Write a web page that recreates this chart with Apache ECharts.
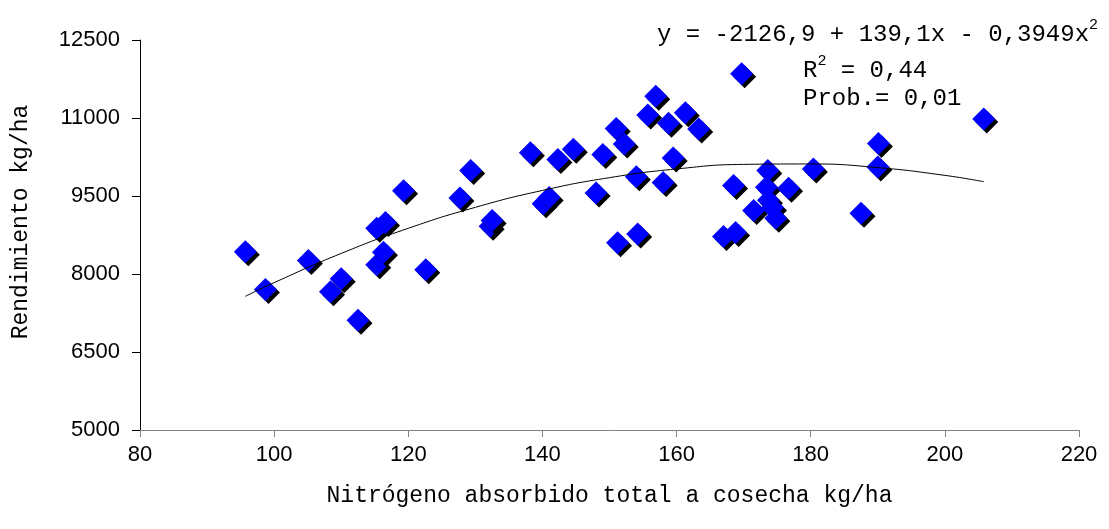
<!DOCTYPE html>
<html>
<head>
<meta charset="utf-8">
<script src="https://cdn.jsdelivr.net/npm/echarts@6/dist/echarts.min.js"></script>
<style>html,body{margin:0;padding:0;background:#fff;}#c{width:1109px;height:529px;}</style>
</head>
<body>
<div id="c"></div>
<script>
// Observed data: N absorbed (kg/ha) vs yield (kg/ha)
var nitrogen = [95.7, 98.7, 105.1, 108.4, 110.0, 112.5, 115.3, 116.3, 115.3, 116.6, 119.3, 122.6, 127.7, 129.3, 132.2, 132.5, 138.2, 140.1, 141.0, 142.3, 144.6, 148.0, 149.0, 151.0, 152.2, 151.2, 154.2, 154.0, 155.7, 156.9, 158.0, 158.8, 159.5, 161.3, 163.3, 167.0, 168.5, 168.8, 169.7, 171.5, 173.6, 173.4, 173.7, 174.3, 174.8, 176.7, 180.4, 187.5, 190.0, 190.1, 205.8];
var yieldKg = [8430, 7700, 8260, 7660, 7910, 7110, 8180, 8420, 8880, 8990, 9600, 8080, 9460, 9990, 8920, 9030, 10330, 9350, 9470, 10200, 10400, 9560, 10300, 10800, 10500, 8600, 8770, 9870, 11060, 11420, 9760, 10900, 10230, 11100, 10790, 8720, 9700, 8800, 11850, 9220, 9990, 9670, 9420, 9280, 9070, 9650, 10020, 9170, 10060, 10510, 10980];
// Trend line
var trendX = [95.7, 100, 110, 120, 130, 140, 150, 160, 170, 180, 190, 200, 205.8];
var trendY = [7570, 7834, 8396, 8879, 9282, 9607, 9853, 10020, 10108, 10116, 10046, 9897, 9775];
var xTicks = [80, 100, 120, 140, 160, 180, 200, 220];
var yTicks = [5000, 6500, 8000, 9500, 11000, 12500];

var pts = nitrogen.map(function (x, i) { return [x, yieldKg[i]]; });
var trend = trendX.map(function (x, i) { return [x, trendY[i]]; });

var chart = echarts.init(document.getElementById('c'), null, { renderer: 'canvas' });
var mono = '"Liberation Mono", "Courier New", monospace';
var sans = '"Liberation Sans", Arial, sans-serif';
chart.setOption({
  animation: false,
  backgroundColor: '#ffffff',
  grid: { left: 140, right: 30, top: 40, bottom: 99, containLabel: false },
  xAxis: {
    type: 'value', min: xTicks[0], max: xTicks[xTicks.length - 1], interval: 20,
    name: 'Nitrógeno absorbido total a cosecha kg/ha', nameLocation: 'middle', nameGap: 54,
    nameTextStyle: { fontFamily: mono, fontSize: 23, color: '#000' },
    axisLine: { show: true, onZero: false, lineStyle: { color: '#808080', width: 1 } },
    axisTick: { show: true, length: 7, lineStyle: { color: '#808080' } },
    axisLabel: { fontFamily: sans, fontSize: 22, color: '#000', margin: 14, formatter: function (v) { return String(v); } },
    splitLine: { show: false }
  },
  yAxis: {
    type: 'value', min: yTicks[0], max: yTicks[yTicks.length - 1], interval: 1500,
    name: 'Rendimiento kg/ha', nameLocation: 'middle', nameGap: 108,
    nameTextStyle: { fontFamily: mono, fontSize: 23, color: '#000', padding: [0, 0, 0, 26] },
    axisLine: { show: true, onZero: false, lineStyle: { color: '#000', width: 1 } },
    axisTick: { show: true, length: 8, lineStyle: { color: '#000' } },
    axisLabel: { fontFamily: sans, fontSize: 22, color: '#000', margin: 20, formatter: function (v) { return String(v); } },
    splitLine: { show: false }
  },
  series: [
    {
      type: 'line', data: trend, smooth: true, symbol: 'none', z: 3,
      lineStyle: { color: '#000', width: 1 }
    },
    {
      type: 'scatter', data: pts, symbol: 'diamond', symbolSize: 23, z: 2,
      itemStyle: { color: '#0000ff', opacity: 1, shadowColor: 'rgba(0,0,0,1)', shadowOffsetX: 3, shadowOffsetY: 3, shadowBlur: 0 }
    }
  ],
  graphic: [
    { type: 'text', left: 657, top: 18, style: { text: '{a|y = -2126,9 + 139,1x - 0,3949x}{s|2}', rich: { a: { fontFamily: mono, fontSize: 24, fill: '#000', verticalAlign: 'bottom' }, s: { fontFamily: mono, fontSize: 15, fill: '#000', verticalAlign: 'top', padding: [0, 0, 14, 0] } } } },
    { type: 'text', left: 803, top: 54, style: { text: '{a|R}{s|2}{a| = 0,44}', rich: { a: { fontFamily: mono, fontSize: 24, fill: '#000', verticalAlign: 'bottom' }, s: { fontFamily: mono, fontSize: 15, fill: '#000', verticalAlign: 'top', padding: [0, 0, 14, 0] } } } },
    { type: 'text', left: 803, top: 87, style: { text: 'Prob.= 0,01', fontFamily: mono, fontSize: 24, fill: '#000' } }
  ]
});
</script>
</body>
</html>
